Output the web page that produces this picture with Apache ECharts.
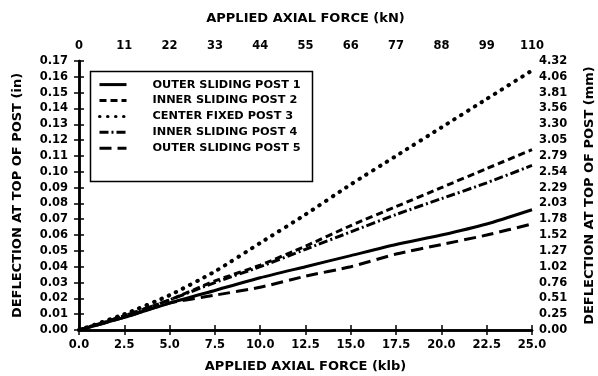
<!DOCTYPE html>
<html>
<head>
<meta charset="utf-8">
<script src="https://cdn.jsdelivr.net/npm/echarts@6/dist/echarts.min.js"></script>
<style>
html, body { margin: 0; padding: 0; background: #fff; }
#chart { width: 598px; height: 376px; }
</style>
</head>
<body>
<div id="chart"></div>
<script>
// applied axial force (klb)
var force = [0, 2.5, 5, 7.5, 10, 12.5, 15, 17.5, 20, 22.5, 25];
// deflection at top of post (in)
var outerPost1 = [0, 0.008, 0.017, 0.025, 0.033, 0.040, 0.047, 0.054, 0.060, 0.067, 0.076];
var innerPost2 = [0, 0.009, 0.019, 0.031, 0.041, 0.053, 0.066, 0.078, 0.090, 0.102, 0.114];
var centerPost3 = [0, 0.010, 0.022, 0.037, 0.055, 0.073, 0.092, 0.110, 0.128, 0.146, 0.164];
var innerPost4 = [0, 0.009, 0.019, 0.030, 0.040, 0.051, 0.062, 0.073, 0.083, 0.093, 0.104];
var outerPost5 = [0, 0.008, 0.017, 0.022, 0.027, 0.034, 0.040, 0.048, 0.054, 0.060, 0.067];

var names = ['OUTER SLIDING POST 1', 'INNER SLIDING POST 2', 'CENTER FIXED POST 3',
             'INNER SLIDING POST 4', 'OUTER SLIDING POST 5'];
var kNLabels = ['0', '11', '22', '33', '44', '55', '66', '77', '88', '99', '110'];
var mmLabels = ['0.00', '0.25', '0.51', '0.76', '1.02', '1.27', '1.52', '1.78', '2.03',
                '2.29', '2.54', '2.79', '3.05', '3.30', '3.56', '3.81', '4.06', '4.32'];

var FONT = 'DejaVu Sans';

function pairs(arr) {
    return force.map(function (f, i) { return [f, arr[i]]; });
}

var lineTypes = [
    { type: 'solid', width: 3 },
    { type: [7, 4], width: 3 },
    { type: [0.5, 7.5], width: 4, cap: 'round' },
    { type: [9, 3, 2, 3], width: 3 },
    { type: [12, 6], width: 3 }
];
var datasets = [outerPost1, innerPost2, centerPost3, innerPost4, outerPost5];

var axisCommon = {
    type: 'value',
    axisLine: { show: true, lineStyle: { color: '#000', width: 2.5 } },
    axisTick: { show: true, length: 5, lineStyle: { color: '#000', width: 1.5 } },
    splitLine: { show: false },
    nameTextStyle: { fontFamily: FONT, fontWeight: 'bold', fontSize: 13, color: '#000' },
    axisLabel: { fontFamily: FONT, fontWeight: 'bold', fontSize: 11.5, color: '#000' }
};

var chart = echarts.init(document.getElementById('chart'));
chart.setOption({
    animation: false,
    backgroundColor: '#fff',
    grid: { left: 79, right: 66, top: 61, bottom: 46, outerBoundsMode: 'none' },
    legend: {
        left: 98,
        top: 79,
        orient: 'vertical',
        itemWidth: 27,
        itemHeight: 14,
        itemGap: 4.7,
        padding: 0,
        data: names,
        itemStyle: { opacity: 0 },
        lineStyle: { width: 3 },
        textStyle: { fontFamily: FONT, fontWeight: 'bold', fontSize: 11.3, color: '#000', padding: [0, 0, 0, 21] }
    },
    graphic: [{
        type: 'rect',
        left: 88, top: 69,
        shape: { width: 222, height: 110 },
        style: { fill: 'none', stroke: '#000', lineWidth: 1.5 },
        z: 10
    }],
    xAxis: [
        Object.assign({}, axisCommon, {
            position: 'bottom', min: 0, max: 25, interval: 2.5,
            name: 'APPLIED AXIAL FORCE (klb)', nameLocation: 'middle', nameGap: 30,
            axisLabel: Object.assign({}, axisCommon.axisLabel, {
                margin: 9,
                formatter: function (v) { return v.toFixed(1); }
            })
        }),
        Object.assign({}, axisCommon, {
            position: 'top', min: 0, max: 25, interval: 2.5,
            name: 'APPLIED AXIAL FORCE (kN)', nameLocation: 'middle', nameGap: 36,
            axisLabel: Object.assign({}, axisCommon.axisLabel, {
                margin: 9,
                formatter: function (v) { return kNLabels[Math.round(v / 2.5)]; }
            })
        })
    ],
    yAxis: [
        Object.assign({}, axisCommon, {
            position: 'left', min: 0, max: 0.17, interval: 0.01,
            name: 'DEFLECTION AT TOP OF POST (in)', nameLocation: 'middle', nameGap: 55, nameRotate: 90,
            axisLabel: Object.assign({}, axisCommon.axisLabel, {
                margin: 11,
                formatter: function (v) { return v.toFixed(2); }
            })
        }),
        Object.assign({}, axisCommon, {
            position: 'right', min: 0, max: 0.17, interval: 0.01,
            name: 'DEFLECTION AT TOP OF POST (mm)', nameLocation: 'middle', nameGap: 51, nameRotate: 90,
            axisLabel: Object.assign({}, axisCommon.axisLabel, {
                margin: 7,
                formatter: function (v) { return mmLabels[Math.round(v / 0.01)]; }
            })
        })
    ],
    series: datasets.map(function (d, i) {
        return {
            name: names[i],
            type: 'line',
            xAxisIndex: 0,
            yAxisIndex: 0,
            showSymbol: false,
            symbol: 'none',
            smooth: 0.2,
            color: '#000',
            lineStyle: Object.assign({ color: '#000' }, lineTypes[i]),
            data: pairs(d)
        };
    })
});
</script>
</body>
</html>
